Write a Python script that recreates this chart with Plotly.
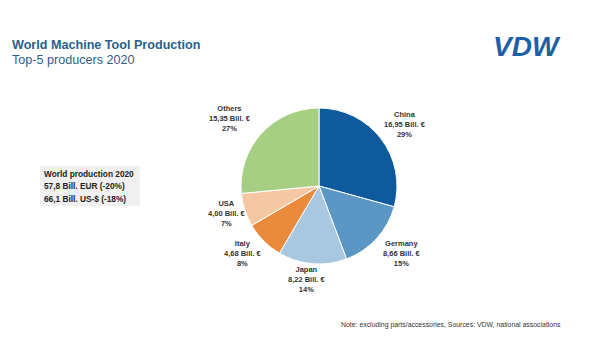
import plotly.graph_objects as go

countries = ["China", "Germany", "Japan", "Italy", "USA", "Others"]
values = [16.95, 8.66, 8.22, 4.68, 4.00, 15.35]
colors = ["#0f5a9c", "#5b97c5", "#a8c8e2", "#e98a3c", "#f4c8a2", "#a6cf83"]
# label anchor positions (pixels from top-left)
label_x = [405, 402, 307, 243, 227, 230]
label_y = [124, 253, 279, 253, 213, 118]

W, H = 592, 338
total = sum(values)

fig = go.Figure()
fig.add_trace(go.Pie(
    labels=countries, values=values, sort=False, direction="clockwise",
    rotation=0, marker=dict(colors=colors, line=dict(color="white", width=1)),
    textinfo="none", hoverinfo="label+value+percent", showlegend=False,
    domain=dict(x=[(319 - 78) / W, (319 + 78) / W], y=[1 - (186 + 78) / H, 1 - (186 - 78) / H]),
))

for c, v, lx, ly in zip(countries, values, label_x, label_y):
    pct = round(v / total * 100)
    txt = f"<b>{c}<br>{v:.2f}".replace(".", ",") + f" Bill. €<br>{pct}%</b>"
    fig.add_annotation(x=lx / W, y=1 - ly / H, xref="paper", yref="paper",
                       text=txt, showarrow=False, xanchor="center", yanchor="middle",
                       align="center", font=dict(size=7.5, color="#333333"))

fig.add_annotation(x=10 / W, y=1 - 45 / H, xref="paper", yref="paper", xanchor="left", yanchor="middle",
                   text="<b>World Machine Tool Production</b>", showarrow=False,
                   font=dict(size=12.6, color="#2b5f8e"))
fig.add_annotation(x=10 / W, y=1 - 60 / H, xref="paper", yref="paper", xanchor="left", yanchor="middle",
                   text="Top-5 producers 2020", showarrow=False,
                   font=dict(size=12.6, color="#2b5f8e"))

fig.add_shape(type="rect", xref="paper", yref="paper", x0=40 / W, x1=140 / W,
              y0=1 - 206 / H, y1=1 - 166 / H, fillcolor="#f0f0f0", line=dict(width=0), layer="below")
for i, t in enumerate(["World production 2020", "57,8 Bill. EUR (-20%)", "66,1 Bill. US-$ (-18%)"]):
    fig.add_annotation(x=42 / W, y=1 - (174 + i * 12.3) / H, xref="paper", yref="paper",
                       xanchor="left", yanchor="middle", text=f"<b>{t}</b>", showarrow=False,
                       font=dict(size=8.3, color="#222222"))

fig.add_annotation(x=563 / W, y=1 - 325 / H, xref="paper", yref="paper", xanchor="right", yanchor="middle",
                   text="Note: excluding parts/accessories, Sources: VDW, national associations",
                   showarrow=False, font=dict(size=6.9, color="#333333"))

fig.add_annotation(x=527 / W, y=1 - 46 / H, xref="paper", yref="paper", xanchor="center", yanchor="middle",
                   text="<b><i>VDW</i></b>", showarrow=False,
                   font=dict(size=28, color="#1f5fa8", family="Liberation Sans"))

fig.update_layout(width=W, height=H, margin=dict(l=0, r=0, t=0, b=0),
                  paper_bgcolor="white", plot_bgcolor="white",
                  font=dict(family="Liberation Sans, Arial, sans-serif"))
fig.write_html("out.html")
